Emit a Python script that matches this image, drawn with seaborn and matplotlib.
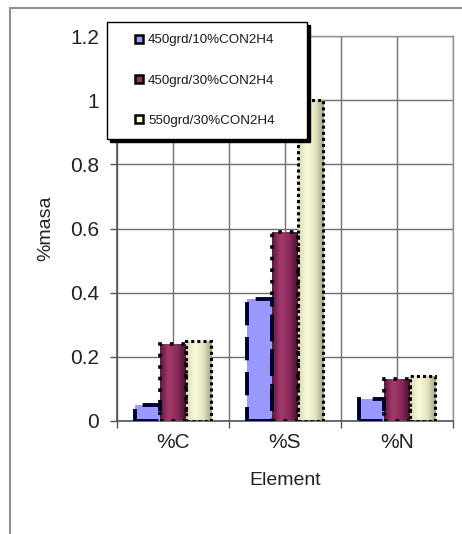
import numpy as np
import pandas as pd
import matplotlib
matplotlib.use("Agg")
import matplotlib.pyplot as plt
import seaborn as sns
from matplotlib.colors import LinearSegmentedColormap
from matplotlib.patches import Rectangle
from matplotlib.lines import Line2D

# ---- data ----
elements = ["%C", "%S", "%N"]
series_names = ["450grd/10%CON2H4", "450grd/30%CON2H4", "550grd/30%CON2H4"]
s1 = [0.05, 0.38, 0.07]
s2 = [0.24, 0.59, 0.13]
s3 = [0.25, 1.00, 0.14]
y_ticks = [0, 0.2, 0.4, 0.6, 0.8, 1.0, 1.2]
y_tick_labels = ["0", "0.2", "0.4", "0.6", "0.8", "1", "1.2"]

df = pd.DataFrame({
    "Element": elements * 3,
    "Series": [series_names[0]] * 3 + [series_names[1]] * 3 + [series_names[2]] * 3,
    "value": s1 + s2 + s3,
})

colors = ["#9999FF", "#993366", "#FFFFCC"]

sns.set_style("white")
plt.rcParams["font.family"] = ["Liberation Sans", "DejaVu Sans"]

leg_size = 9.6

fig = plt.figure(figsize=(4.62, 5.34), dpi=100)
ax = fig.add_axes([117 / 462, 1 - 421 / 534, (453 - 117) / 462, (421 - 36) / 534])

sns.barplot(data=df, x="Element", y="value", hue="Series", order=elements,
            hue_order=series_names, palette=colors, width=0.68, gap=0,
            ax=ax, legend=False, saturation=1)

# bar edge styles
edge_styles = [
    dict(edgecolor="#000030", linestyle=(0, (6, 3)), linewidth=2.8),
    dict(edgecolor="#000000", linestyle=(0, (1, 2.2)), linewidth=2.6),
    dict(edgecolor="#000000", linestyle=(0, (1, 1)), linewidth=2.2),
]
grads = [
    None,
    LinearSegmentedColormap.from_list("m", ["#5e1840", "#a43a6c", "#8a2c5a", "#4a1030"]),
    LinearSegmentedColormap.from_list("b", ["#d8d8b0", "#fbfbdc", "#e4e4c0", "#a3a388"]),
]
n = len(elements)
for i, p in enumerate(ax.patches):
    si = i // n
    p.set(**edge_styles[si])
    p.set_zorder(3)
    if grads[si] is not None:
        x0, y0 = p.get_x(), p.get_y()
        w, h = p.get_width(), p.get_height()
        g = np.linspace(0, 1, 64).reshape(1, -1)
        im = ax.imshow(g, cmap=grads[si], extent=[x0, x0 + w, y0, y0 + h],
                       aspect="auto", zorder=2.5, interpolation="bilinear")
        im.set_clip_path(p)
        p.set_facecolor("none")
ax.set_xlim(-0.5, 2.5)
ax.set_ylim(0, 1.2)

# ticks and grid
ax.set_xticks([-0.5, 0.5, 1.5, 2.5])
ax.set_xticklabels([])
ax.set_xticks([0, 1, 2], minor=True)
ax.set_xticklabels(elements, minor=True)
ax.tick_params(axis="x", which="major", length=5, width=1, color="#555555", direction="out", bottom=True)
ax.tick_params(axis="x", which="minor", length=0, labelsize=15, pad=9, colors="#222222")
ax.set_yticks(y_ticks)
ax.set_yticklabels(y_tick_labels)
ax.tick_params(axis="y", length=5, width=1, color="#555555", direction="out", left=True,
               labelsize=15, pad=8, labelcolor="#222222")
ax.grid(True, axis="y", color="#707070", linewidth=1)
ax.grid(True, axis="x", which="both", color="#707070", linewidth=1)
ax.set_axisbelow(True)
for s in ["top", "right"]:
    ax.spines[s].set_color("#909090")
    ax.spines[s].set_linewidth(1)
for s in ["left", "bottom"]:
    ax.spines[s].set_color("#555555")
    ax.spines[s].set_linewidth(1.2)

ax.set_xlabel("Element", fontsize=14, labelpad=14, color="#222222")
ax.set_ylabel("%masa", fontsize=14, labelpad=11, color="#222222")

# legend
fs_px = leg_size * 100 / 72
pad = 12 / fs_px
hl = 2 * (139 - 119) / fs_px
htp = (148 - 159) / fs_px
ls = (38.5 - fs_px * 1.05) / fs_px + 0.26

handles = [Line2D([], [], linestyle="none", marker="s", markersize=6,
                  markerfacecolor=c, markeredgecolor="black", markeredgewidth=1.8)
           for c in colors]
leg = fig.legend(handles, series_names, loc="upper left",
                 bbox_to_anchor=(107 / 462, 1 - 135 / 534, 200 / 462, 113 / 534),
                 mode="expand", prop={"family": ["Liberation Sans"], "size": leg_size},
                 frameon=True, fancybox=False,
                 shadow={"facecolor": "black", "edgecolor": "black", "alpha": 1},
                 handlelength=hl, handletextpad=htp,
                 labelspacing=ls, borderpad=pad, borderaxespad=0, framealpha=1)
leg.get_frame().set_edgecolor("black")
leg.get_frame().set_linewidth(1)
leg.set_zorder(10)
for t in leg.get_texts():
    t.set_color("#1a1a1a")

# outer frame
fig.patches.append(Rectangle((10 / 462, -0.1), 1.2, 1.1 - 8 / 534,
                             transform=fig.transFigure, fill=False,
                             edgecolor="#909090", linewidth=1.5))

fig.savefig("out.png", dpi=100)
